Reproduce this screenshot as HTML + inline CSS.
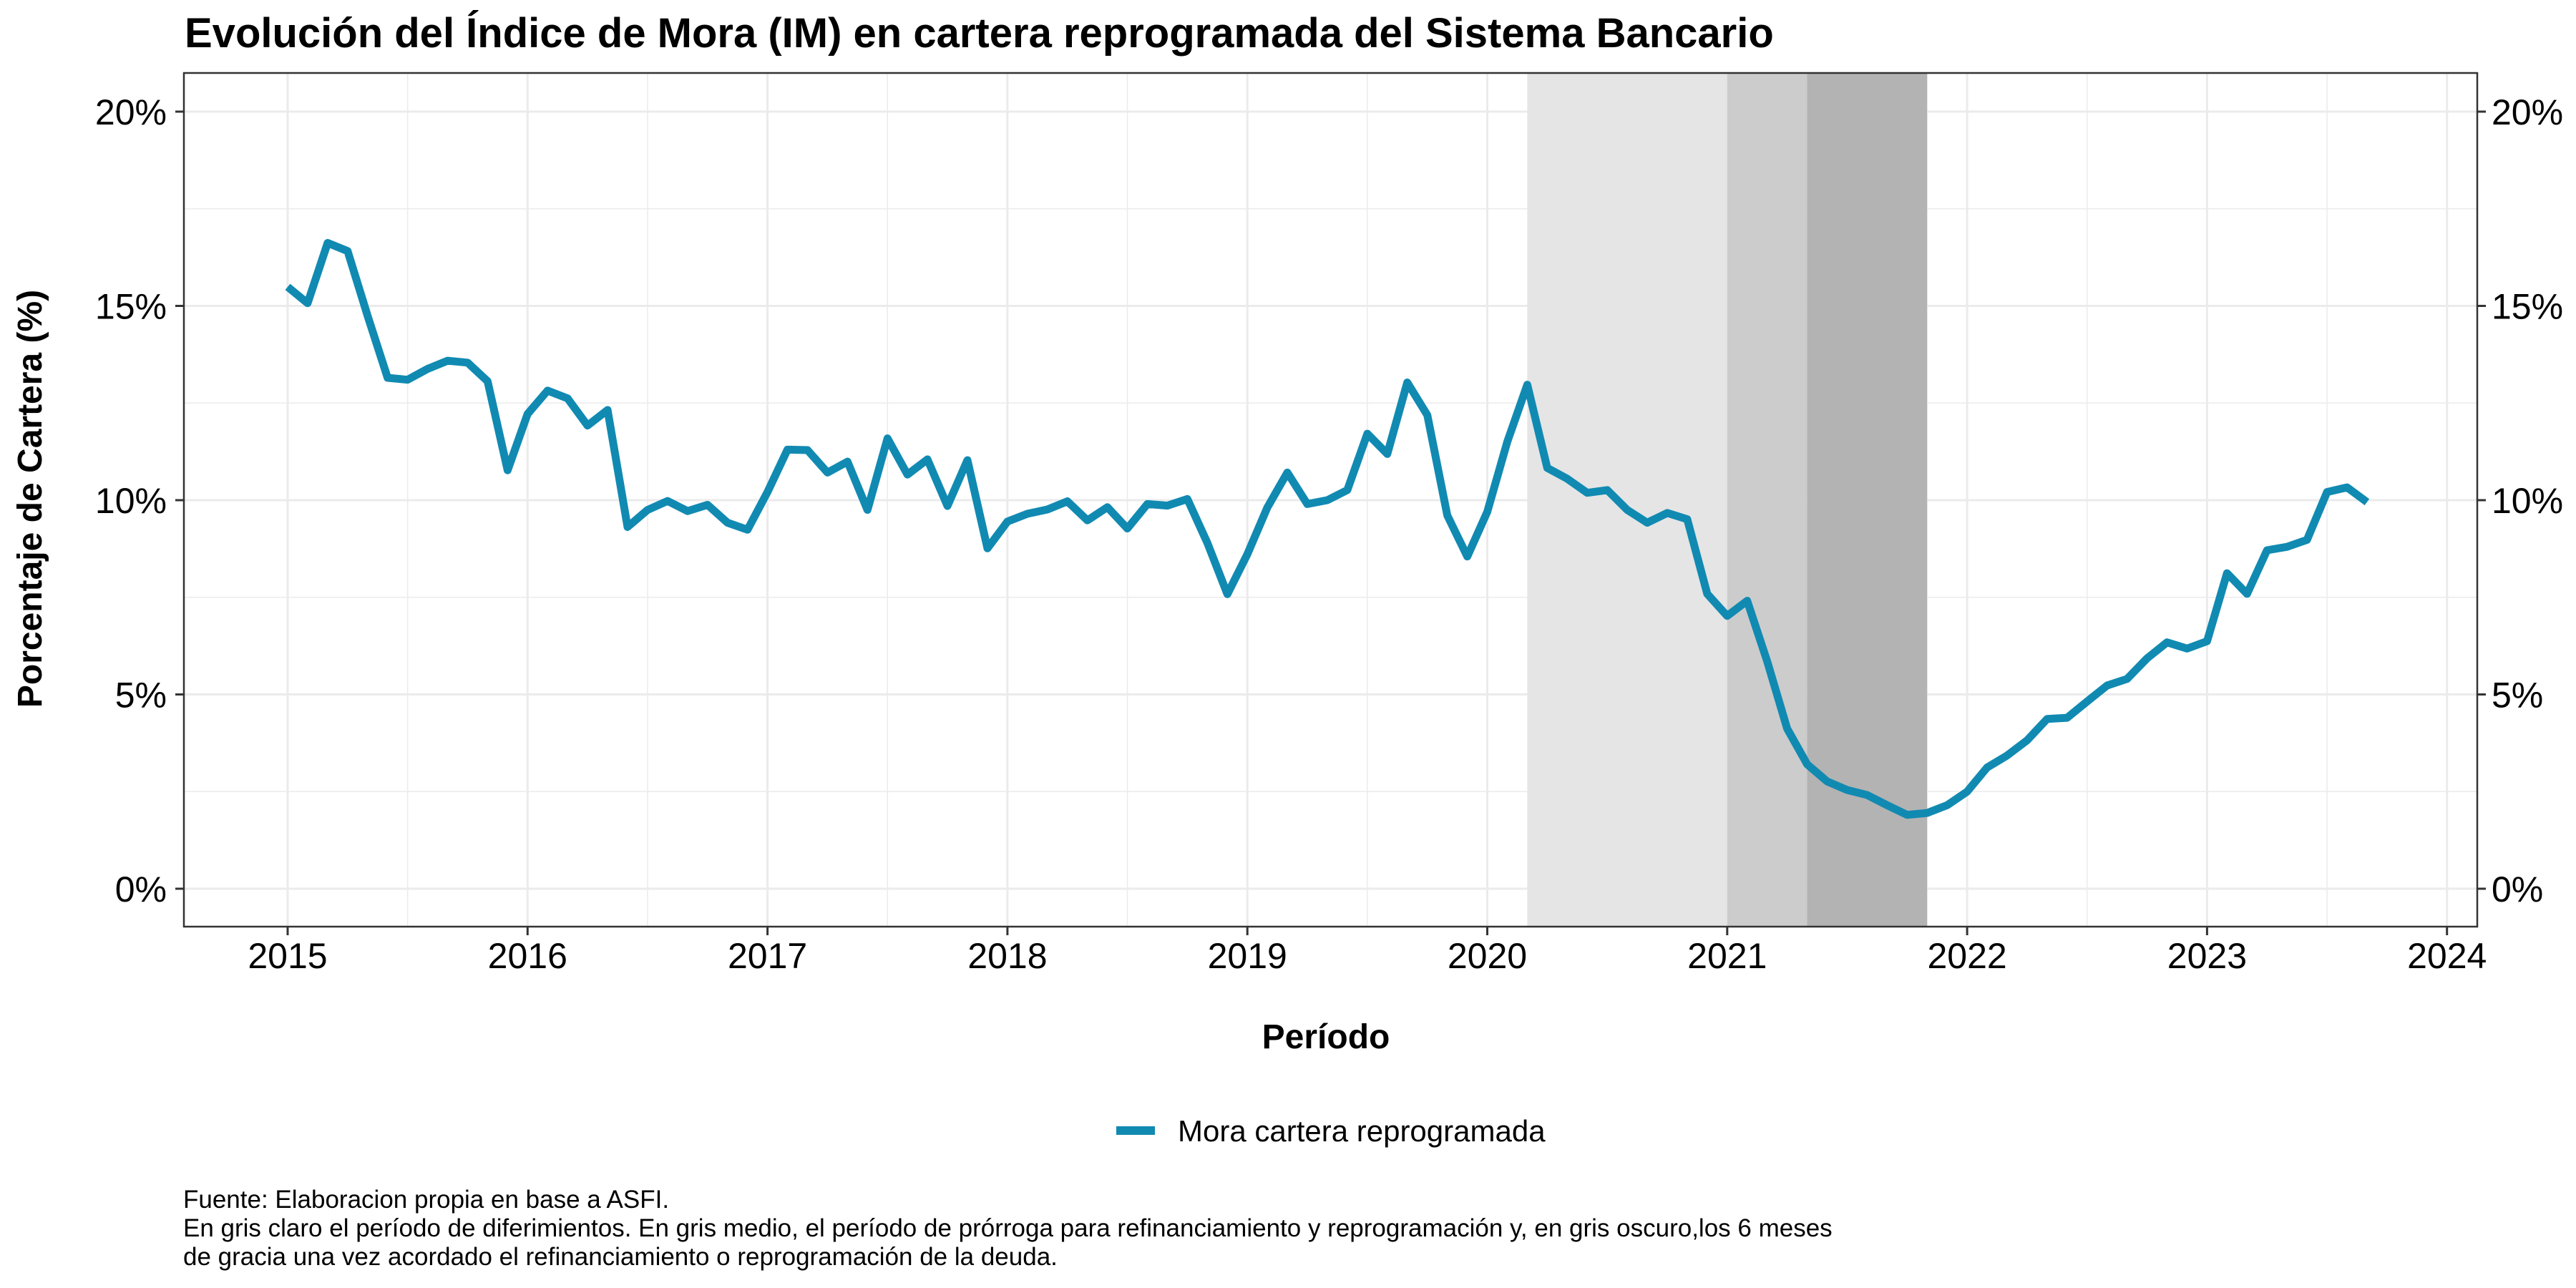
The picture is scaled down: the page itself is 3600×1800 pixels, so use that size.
<!DOCTYPE html>
<html><head><meta charset="utf-8"><style>
html,body{margin:0;padding:0;background:#fff;}
svg{display:block;font-family:"Liberation Sans",Arial,sans-serif;}
</style></head><body>
<svg id="chart" width="3600" height="1800" viewBox="0 0 3600 1800" xmlns="http://www.w3.org/2000/svg">
<rect x="0" y="0" width="3600" height="1800" fill="#fff"/>
<text x="258" y="66" font-size="58" font-weight="bold" fill="#000">Evolución del Índice de Mora (IM) en cartera reprogramada del Sistema Bancario</text>
<g id="shading"></g>
<g id="grid"></g>
<g id="series"></g>
<rect x="257" y="102" width="3205" height="1193" fill="none" stroke="#333" stroke-width="2.5"/>
<g id="axes"></g>
<text x="1853" y="1465" font-size="48" font-weight="bold" text-anchor="middle">Período</text>
<text transform="translate(58,697) rotate(-90)" font-size="48" font-weight="bold" text-anchor="middle">Porcentaje de Cartera (%)</text>
<g>
<line x1="1560" y1="1580" x2="1614" y2="1580" stroke="#118AB2" stroke-width="12"/>
<text x="1646" y="1595" font-size="42">Mora cartera reprogramada</text>
</g>
<g font-size="35" fill="#000">
<text x="256" y="1688">Fuente: Elaboracion propia en base a ASFI.</text>
<text x="256" y="1728">En gris claro el período de diferimientos. En gris medio, el período de prórroga para refinanciamiento y reprogramación y, en gris oscuro,los 6 meses</text>
<text x="256" y="1768">de gracia una vez acordado el refinanciamiento o reprogramación de la deuda.</text>
</g>
</svg>
<script>
const startYear = 2015;
const values = [
15.49,15.07,16.62,16.41,14.74,13.15,13.10,13.38,13.59,13.54,13.06,10.77,
12.22,12.82,12.62,11.92,12.32,9.31,9.75,9.98,9.72,9.88,9.42,9.24,
10.21,11.30,11.29,10.71,10.99,9.75,11.59,10.66,11.05,9.85,11.03,8.76,
9.45,9.65,9.76,9.97,9.48,9.82,9.27,9.90,9.86,10.03,8.90,7.58,
8.61,9.81,10.71,9.90,10.00,10.26,11.71,11.19,13.03,12.19,9.61,8.55,
9.70,11.50,12.97,10.83,10.55,10.19,10.26,9.75,9.42,9.67,9.51,7.59,
7.02,7.41,5.85,4.12,3.20,2.76,2.54,2.41,2.15,1.90,1.95,2.15,
2.50,3.12,3.43,3.82,4.37,4.40,4.82,5.23,5.40,5.93,6.34,6.18,
6.37,8.12,7.59,8.71,8.80,8.98,10.21,10.33,9.95];
const periodStarts = [2020.1667, 2021.0, 2021.3333];
const periodEnds = [2021.0, 2021.3333, 2021.8333];
const periodColors = ['#e5e5e5','#cccccc','#b3b3b3'];
const periodNames = ['period-deferrals','period-extension','period-grace'];
const xTicks = [2015,2016,2017,2018,2019,2020,2021,2022,2023,2024];
const yTicks = [0,5,10,15,20];
const yTickLabels = ['0%','5%','10%','15%','20%'];

const NS='http://www.w3.org/2000/svg';
const PL=257, PR=3462, PT=102, PB=1295;
function xs(t){return 402 + (t-2015)*335.3;}
function ys(v){return 1242 - v*54.3;}
function mk(tag, parent, attrs){const e=document.createElementNS(NS,tag);for(const k in attrs)e.setAttribute(k,attrs[k]);parent.appendChild(e);return e;}

const shading=document.getElementById('shading');
for(let i=0;i<periodStarts.length;i++){
  const r=mk('rect',shading,{x:xs(periodStarts[i]),y:PT,width:xs(periodEnds[i])-xs(periodStarts[i]),height:PB-PT,fill:periodColors[i]});
  
  
}
const grid=document.getElementById('grid');
for(let v=2.5; v<20; v+=5){
  const l=mk('line',grid,{x1:PL,x2:PR,y1:ys(v),y2:ys(v),stroke:'#ebebeb','stroke-width':1.5});
  
  
}
for(let i=0;i<xTicks.length-1;i++){
  const t=xTicks[i]+0.5;
  const l=mk('line',grid,{x1:xs(t),x2:xs(t),y1:PT,y2:PB,stroke:'#ebebeb','stroke-width':1.5});
  
  
}
yTicks.forEach(v=>{
  const l=mk('line',grid,{x1:PL,x2:PR,y1:ys(v),y2:ys(v),stroke:'#ebebeb','stroke-width':3});
  
  
});
xTicks.forEach(t=>{
  const l=mk('line',grid,{x1:xs(t),x2:xs(t),y1:PT,y2:PB,stroke:'#ebebeb','stroke-width':3});
  
  
});
// redraw shading over gridlines? In reference gridlines hidden by shading
const shading2=document.getElementById('series');
for(let i=0;i<periodStarts.length;i++){
  const r=mk('rect',shading2,{x:xs(periodStarts[i]),y:PT,width:xs(periodEnds[i])-xs(periodStarts[i]),height:PB-PT,fill:periodColors[i]});
  
  
}
let d='';
values.forEach((v,i)=>{const t=startYear+i/12;d+=(i?'L':'M')+xs(t).toFixed(1)+','+ys(v).toFixed(1);});
const path=mk('path',shading2,{d:d,fill:'none',stroke:'#118AB2','stroke-width':11,'stroke-linejoin':'round','stroke-linecap':'butt'});



const axes=document.getElementById('axes');
yTicks.forEach((v,i)=>{
  const a=mk('line',axes,{x1:PL-12,x2:PL,y1:ys(v),y2:ys(v),stroke:'#333','stroke-width':3});
  
  
  const b=mk('line',axes,{x1:PR,x2:PR+12,y1:ys(v),y2:ys(v),stroke:'#333','stroke-width':3});
  
  
  const t1=mk('text',axes,{x:233,y:ys(v)+18,'font-size':50,'text-anchor':'end',fill:'#000'});
  t1.textContent=yTickLabels[i];
  
  
  const t2=mk('text',axes,{x:3482,y:ys(v)+18,'font-size':50,'text-anchor':'start',fill:'#000'});
  t2.textContent=yTickLabels[i];
  
  
});
xTicks.forEach(t=>{
  const a=mk('line',axes,{x1:xs(t),x2:xs(t),y1:PB,y2:PB+12,stroke:'#333','stroke-width':3});
  
  
  const tx=mk('text',axes,{x:xs(t),y:1353,'font-size':50,'text-anchor':'middle',fill:'#000'});
  tx.textContent=String(t);
  
  
});
</script>
</body></html>
